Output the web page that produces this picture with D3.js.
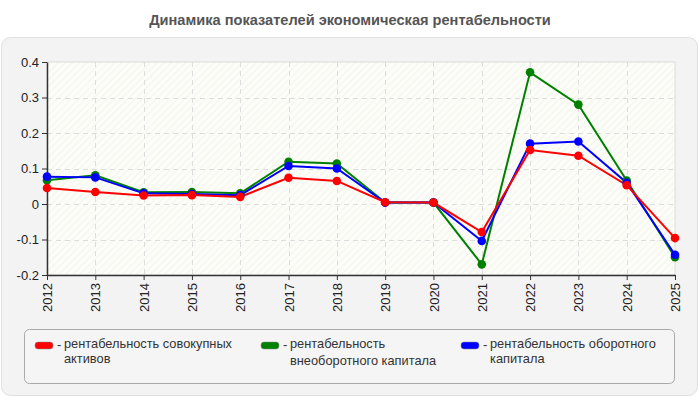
<!DOCTYPE html>
<html><head><meta charset="utf-8">
<script src="https://cdn.jsdelivr.net/npm/d3@7"></script>
<style>body{margin:0;background:#fff}svg{display:block;font-family:"Liberation Sans",Arial,sans-serif}</style>
</head><body><svg id="c" width="700" height="400"></svg>
<script>
const years = ["2012","2013","2014","2015","2016","2017","2018","2019","2020","2021","2022","2023","2024","2025"];
const seriesNames = ["рентабельность совокупных активов","рентабельность внеоборотного капитала","рентабельность оборотного капитала"];
const seriesColors = ["#ff0000","#008000","#0000ff"];
const redValues = [0.045,0.034,0.024,0.025,0.020,0.074,0.065,0.005,0.004,-0.079,0.152,0.136,0.053,-0.096];
const greenValues = [0.067,0.081,0.033,0.034,0.030,0.119,0.114,0.004,0.004,-0.170,0.371,0.280,0.066,-0.150];
const blueValues = [0.077,0.075,0.030,0.028,0.025,0.107,0.100,0.004,0.004,-0.104,0.170,0.176,0.060,-0.143];
const yTicks = [-0.2,-0.1,0,0.1,0.2,0.3,0.4];
const yTickLabels = ["-0.2","-0.1","0","0.1","0.2","0.3","0.4"];
const legendLines = [["рентабельность совокупных","активов"],["рентабельность","внеоборотного капитала"],["рентабельность оборотного","капитала"]];

const svg = d3.select("#c");
const m = {l:47, r:675, t:62, b:275};

svg.append("text").attr("x",350).attr("y",25).attr("text-anchor","middle")
  .attr("font-weight","bold").attr("font-size",14.6).attr("fill","#555")
  .text("Динамика показателей экономическая рентабельности");

svg.append("rect").attr("x",1.5).attr("y",37.5).attr("width",696).attr("height",358).attr("rx",9)
  .attr("fill","#f3f3f3").attr("stroke","#e0e0e0");

const defs = svg.append("defs");
const pat = defs.append("pattern").attr("id","hatch").attr("patternUnits","userSpaceOnUse")
  .attr("width",5).attr("height",5).attr("patternTransform","rotate(45)");
pat.append("rect").attr("width",5).attr("height",5).attr("fill","#fdfdf8");
pat.append("line").attr("x1",0).attr("y1",0).attr("x2",0).attr("y2",5).attr("stroke","#f0f0ec").attr("stroke-width",1.5);

const x = d3.scalePoint().domain(years).range([m.l, m.r]);
const y = d3.scaleLinear().domain([-0.2,0.4]).range([m.b, m.t]);

svg.append("rect").attr("x",m.l).attr("y",m.t).attr("width",m.r-m.l).attr("height",m.b-m.t)
  .attr("fill","url(#hatch)").attr("stroke","#dcdcdc");

const g = svg.append("g");
g.selectAll(".hg").data(yTicks.slice(1,-1)).enter().append("line")
  .attr("x1",m.l).attr("x2",m.r).attr("y1",d=>Math.round(y(d))+0.5).attr("y2",d=>Math.round(y(d))+0.5)
  .attr("stroke","#dddddd").attr("stroke-dasharray","5,4");
g.selectAll(".vg").data(years.slice(1,-1)).enter().append("line")
  .attr("y1",m.t).attr("y2",m.b).attr("x1",d=>Math.round(x(d))+0.5).attr("x2",d=>Math.round(x(d))+0.5)
  .attr("stroke","#dddddd").attr("stroke-dasharray","5,4");

const yAxis = d3.axisLeft(y).tickValues(yTicks).tickFormat((d,i)=>yTickLabels[i]).tickSize(5).tickSizeOuter(0);
const ya = svg.append("g").attr("transform",`translate(${m.l},0)`).call(yAxis);
ya.select(".domain").attr("stroke","#333").attr("stroke-width",1.5);
ya.selectAll(".tick line").attr("stroke","#333");
ya.selectAll("text").attr("font-size",13).attr("fill","#222").attr("font-family","Liberation Sans, Arial, sans-serif").attr("x",-8);

const xAxis = d3.axisBottom(x).tickSize(5).tickSizeOuter(0);
const xa = svg.append("g").attr("transform",`translate(0,${m.b})`).call(xAxis);
xa.select(".domain").attr("stroke","#333").attr("stroke-width",1.5);
xa.selectAll(".tick line").attr("stroke","#333");
xa.selectAll("text").attr("font-size",13).attr("fill","#222").attr("font-family","Liberation Sans, Arial, sans-serif")
  .attr("transform","rotate(-90)").attr("text-anchor","end").attr("x",-8).attr("y",0).attr("dy","0.35em");

const allSeries = [redValues, greenValues, blueValues];
const line = d3.line().x((d,i)=>x(years[i])).y(d=>y(d));
const order = [1,2,0];
order.forEach(k=>{
  svg.append("path").datum(allSeries[k]).attr("d",line).attr("fill","none")
    .attr("stroke",seriesColors[k]).attr("stroke-width",2);
});
order.forEach(k=>{
  svg.append("g").selectAll("circle").data(allSeries[k]).enter().append("circle")
    .attr("cx",(d,i)=>x(years[i])).attr("cy",d=>y(d)).attr("r",4.3).attr("fill",seriesColors[k]);
});

svg.append("rect").attr("x",24.5).attr("y",329.5).attr("width",650).attr("height",54).attr("rx",5)
  .attr("fill","#f5f5f5").attr("stroke","#aaaaaa");
const legX = [35, 261, 461];
const line2y = [363, 365, 363];
legX.forEach((lx,i)=>{
  svg.append("rect").attr("x",lx).attr("y",342).attr("width",18).attr("height",7).attr("rx",3)
    .attr("fill",seriesColors[i]).attr("stroke","#888").attr("stroke-width",0.5);
  svg.append("text").attr("x",lx+22).attr("y",348.5).attr("font-size",13).attr("fill","#333").text("-");
  svg.append("text").attr("x",lx+29).attr("y",348).attr("font-size",12.8).attr("fill","#333").text(legendLines[i][0]);
  svg.append("text").attr("x",lx+29).attr("y",line2y[i]).attr("font-size",12.8).attr("fill","#333").text(legendLines[i][1]);
});
</script></body></html>
